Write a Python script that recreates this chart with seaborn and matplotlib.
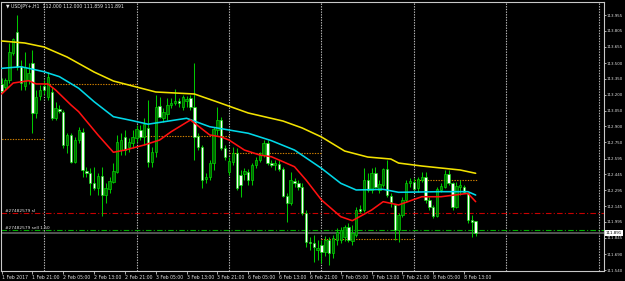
import numpy as np
import pandas as pd
import matplotlib
matplotlib.use("Agg")
import matplotlib.pyplot as plt
import matplotlib.transforms as mtransforms
import seaborn as sns

# ---------------- data (USDJPY+, H1) ----------------
opens = [113.302, 113.273, 113.339, 113.595, 113.794, 113.472, 113.283, 113.339, 113.501, 113.027,
         113.188, 113.283, 113.178, 113.226, 112.980, 113.065, 113.036, 112.724, 112.819, 112.563,
         112.771, 112.847, 112.478, 112.459, 112.364, 112.317, 112.430, 112.250, 112.307, 112.373,
         112.468, 112.676, 112.800, 112.705, 112.743, 112.790, 112.866, 112.800, 112.885, 112.563,
         112.658, 113.093, 112.980, 113.017, 113.103, 113.122, 113.141, 113.084, 113.141, 113.169,
         113.084, 112.809, 112.705, 112.402, 112.421, 112.553, 112.866, 112.961, 112.695, 112.468,
         112.563, 112.648, 112.440, 112.449, 112.468, 112.392, 112.535, 112.582, 112.629, 112.743,
         112.553, 112.535, 112.544, 112.497, 112.241, 112.175, 112.383, 112.364, 112.326, 112.080,
         111.806, 111.796, 111.730, 111.777, 111.711, 111.824, 111.701, 111.824, 111.824, 111.853,
         111.947, 111.815, 111.872, 112.118, 112.108, 112.392, 112.298, 112.459, 112.298, 112.345,
         112.497, 112.241, 112.156, 111.919, 112.061, 112.203, 112.364, 112.373, 112.317, 112.392,
         112.421, 112.203, 112.137, 112.051, 112.298, 112.326, 112.449, 112.364, 112.137, 112.326,
         112.326, 112.269, 112.013, 112.000]
highs = [113.358, 113.358, 113.690, 113.737, 113.955, 113.529, 113.605, 113.501, 113.624, 113.245,
         113.292, 113.339, 113.415, 113.273, 113.131, 113.103, 113.055, 112.838, 112.838, 112.800,
         112.894, 112.885, 112.516, 112.506, 112.516, 112.459, 112.516, 112.364, 112.421, 112.553,
         112.819, 112.838, 112.866, 112.790, 112.866, 112.913, 112.913, 112.980, 113.150, 112.705,
         113.197, 113.178, 113.074, 113.169, 113.169, 113.254, 113.169, 113.197, 113.188, 113.197,
         113.501, 112.838, 112.724, 112.459, 112.582, 112.894, 113.084, 112.989, 112.724, 112.610,
         112.705, 112.695, 112.487, 112.506, 112.497, 112.553, 112.610, 112.658, 112.771, 112.771,
         112.582, 112.582, 112.582, 112.516, 112.269, 112.468, 112.411, 112.392, 112.364, 112.108,
         111.853, 111.872, 111.824, 111.824, 111.862, 111.853, 111.872, 111.938, 111.947, 111.966,
         111.985, 111.966, 112.137, 112.156, 112.506, 112.459, 112.506, 112.516, 112.392, 112.506,
         112.582, 112.269, 112.156, 112.080, 112.231, 112.392, 112.411, 112.411, 112.421, 112.468,
         112.468, 112.231, 112.156, 112.326, 112.364, 112.487, 112.487, 112.373, 112.373, 112.392,
         112.345, 112.279, 112.061, 112.000]
lows = [113.216, 113.245, 113.311, 113.576, 113.434, 113.245, 113.245, 113.302, 112.838, 112.980,
        113.150, 113.207, 113.150, 112.961, 112.961, 113.027, 112.695, 112.648, 112.553, 112.553,
        112.743, 112.421, 112.421, 112.250, 112.298, 112.250, 112.051, 112.175, 112.269, 112.364,
        112.459, 112.629, 112.629, 112.658, 112.695, 112.752, 112.771, 112.724, 112.516, 112.516,
        112.610, 112.980, 112.942, 112.961, 113.074, 113.103, 113.084, 113.055, 113.084, 113.055,
        112.582, 112.676, 112.317, 112.364, 112.392, 112.487, 112.819, 112.676, 112.582, 112.440,
        112.535, 112.298, 112.231, 112.392, 112.345, 112.345, 112.506, 112.563, 112.610, 112.535,
        112.516, 112.487, 112.478, 112.231, 111.995, 112.156, 112.326, 112.298, 112.061, 111.758,
        111.730, 111.616, 111.635, 111.606, 111.673, 111.587, 111.654, 111.777, 111.796, 111.815,
        111.806, 111.777, 111.853, 112.080, 112.089, 112.279, 112.269, 112.317, 112.269, 112.326,
        112.231, 112.137, 111.824, 111.806, 112.042, 112.184, 112.326, 112.298, 112.279, 112.373,
        112.175, 112.108, 112.032, 112.042, 112.279, 112.317, 112.345, 112.108, 112.127, 112.250,
        112.269, 111.985, 111.853, 111.859]
closes = [113.235, 113.339, 113.605, 113.728, 113.462, 113.311, 113.462, 113.406, 113.027, 113.178,
          113.245, 113.245, 113.368, 112.980, 113.074, 113.046, 112.724, 112.819, 112.563, 112.771,
          112.866, 112.487, 112.459, 112.364, 112.317, 112.430, 112.250, 112.317, 112.383, 112.478,
          112.752, 112.771, 112.676, 112.752, 112.800, 112.875, 112.800, 112.923, 112.563, 112.658,
          113.084, 112.989, 113.036, 113.103, 113.122, 113.141, 113.122, 113.178, 113.159, 113.084,
          112.800, 112.705, 112.392, 112.421, 112.553, 112.875, 112.961, 112.695, 112.610, 112.572,
          112.648, 112.317, 112.345, 112.478, 112.392, 112.535, 112.582, 112.629, 112.743, 112.553,
          112.535, 112.553, 112.497, 112.241, 112.175, 112.392, 112.364, 112.326, 112.080, 111.806,
          111.796, 111.758, 111.749, 111.711, 111.824, 111.701, 111.843, 111.900, 111.919, 111.947,
          111.824, 111.890, 112.108, 112.099, 112.392, 112.298, 112.459, 112.326, 112.354, 112.497,
          112.250, 112.184, 111.919, 112.061, 112.203, 112.364, 112.383, 112.307, 112.402, 112.421,
          112.203, 112.137, 112.051, 112.307, 112.336, 112.449, 112.364, 112.137, 112.336, 112.345,
          112.279, 112.013, 111.995, 111.891]

# moving averages, read at selected bars
ma_slow_bar = [0, 6, 11, 17, 24, 29, 35, 40, 50, 56, 64, 73, 78, 83, 89, 95, 101, 103, 109, 114, 119, 123]
ma_slow_val = [113.709, 113.690, 113.652, 113.557, 113.415, 113.330, 113.273, 113.226, 113.207, 113.131,
               113.027, 112.951, 112.885, 112.800, 112.667, 112.610, 112.591, 112.553, 112.525, 112.506,
               112.487, 112.456]
ma_mid_bar = [0, 5, 7, 11, 15, 20, 24, 29, 34, 38, 48, 54, 59, 64, 70, 76, 83, 88, 92, 99, 103, 114, 121, 123]
ma_mid_val = [113.450, 113.465, 113.450, 113.418, 113.371, 113.261, 113.134, 112.992, 112.954, 112.921,
              112.977, 112.897, 112.866, 112.835, 112.765, 112.676, 112.503, 112.361, 112.298, 112.304,
              112.276, 112.282, 112.282, 112.250]
ma_fast_bar = [0, 3, 7, 9, 12, 14, 18, 20, 25, 29, 32, 37, 41, 44, 49, 54, 57, 59, 63, 67, 70, 73, 76,
               79, 83, 88, 91, 96, 99, 103, 109, 114, 121, 123]
ma_fast_val = [113.207, 113.311, 113.333, 113.302, 113.302, 113.245, 113.103, 113.039, 112.819, 112.655,
               112.676, 112.724, 112.771, 112.850, 112.961, 112.819, 112.800, 112.771, 112.676, 112.629,
               112.613, 112.566, 112.518, 112.392, 112.203, 112.045, 112.007, 112.108, 112.187, 112.156,
               112.234, 112.234, 112.266, 112.187]

# daily open levels (start bar, end bar, price)
day_start = [-1, 11, 35, 59, 83, 107]
day_end = [11, 35, 59, 83, 107, 123.4]
day_level = [112.781, 113.302, 112.809, 112.648, 111.834, 112.392]

separator_bars = [11, 35, 59, 83, 107, 131, 155]

tick_bars = [0, 8, 16, 24, 32, 40, 48, 56, 64, 72, 80, 88, 96, 104, 112, 120]
tick_labels = ["1 Feb 2017", "1 Feb 21:00", "2 Feb 05:00", "2 Feb 13:00", "2 Feb 21:00",
               "3 Feb 05:00", "3 Feb 13:00", "3 Feb 21:00", "6 Feb 05:00", "6 Feb 13:00",
               "6 Feb 21:00", "7 Feb 05:00", "7 Feb 13:00", "7 Feb 21:00", "8 Feb 05:00",
               "8 Feb 13:00"]
price_ticks = [113.955, 113.805, 113.655, 113.500, 113.350, 113.200, 113.050, 112.900, 112.750,
               112.595, 112.445, 112.295, 112.145, 111.995, 111.845, 111.690, 111.540]

sl_level = 112.080
sell_level = 111.918
bid = 111.891
title = "USDJPY+,H1  112.000 112.000 111.859 111.891"

# ---------------- drawing ----------------
sns.set_theme(style="dark")
plt.rcParams["font.family"] = ["DejaVu Sans"]

W, H = 625, 281
fig = plt.figure(figsize=(W / 100, H / 100), dpi=100, facecolor="black")
ax = fig.add_axes([1.5 / W, (H - 270.7) / H, (604 - 1.5) / W, (270.7 - 1.7) / H])
ax.set_facecolor("black")
ax.set_xlim(-0.03, 156.3)
ax.set_ylim(111.5335, 114.081)

fg = "#c8c8c8"
for s in ax.spines.values():
    s.set_color(fg)
    s.set_linewidth(0.8)

# period separators
for b in separator_bars:
    ax.axvline(b, color="#bdbdbd", lw=0.8, ls=(0, (1.2, 1.2)), zorder=1)

# daily open levels
for s0, s1, lv in zip(day_start, day_end, day_level):
    ax.hlines(lv, s0, s1, color="#d08000", lw=0.8, ls=(0, (1.2, 1.2)), zorder=2)

# trade levels
ax.axhline(sl_level, color="#c80000", lw=0.8, ls=(0, (5, 2, 1, 2)), zorder=2)
ax.axhline(sell_level, color="#00b000", lw=0.8, ls=(0, (5, 2, 1, 2)), zorder=2)
ax.axhline(bid, color="#5a5a5a", lw=1.3, zorder=1.5)

# candles
n = len(opens)
xs = np.arange(n)
o = np.array(opens); h = np.array(highs); l = np.array(lows); c = np.array(closes)
wick = "#00c800"
ax.vlines(xs, l, h, color=wick, lw=0.75, zorder=3)
bull = c >= o
bottoms = np.minimum(o, c)
heights = np.maximum(np.abs(c - o), 0.004)
ax.bar(xs[bull], heights[bull], bottom=bottoms[bull], width=0.62, color="#006a00",
       edgecolor="#00e000", linewidth=0.45, zorder=4)
ax.bar(xs[~bull], heights[~bull], bottom=bottoms[~bull], width=0.62, color="white",
       edgecolor="#00e000", linewidth=0.45, zorder=4)

# moving averages with seaborn
df_slow = pd.DataFrame({"bar": ma_slow_bar, "val": ma_slow_val})
df_mid = pd.DataFrame({"bar": ma_mid_bar, "val": ma_mid_val})
df_fast = pd.DataFrame({"bar": ma_fast_bar, "val": ma_fast_val})
sns.lineplot(data=df_slow, x="bar", y="val", ax=ax, color="#f2e200", lw=1.15, zorder=5)
sns.lineplot(data=df_mid, x="bar", y="val", ax=ax, color="#00d8e8", lw=1.15, zorder=5)
sns.lineplot(data=df_fast, x="bar", y="val", ax=ax, color="#ff1010", lw=1.15, zorder=5)
ax.set_xlabel("")
ax.set_ylabel("")

# axes ticks
ax.grid(False)
ax.set_xticks(tick_bars)
ax.set_xticklabels(tick_labels, ha="left")
ax.yaxis.tick_right()
ax.set_yticks(price_ticks)
ax.set_yticklabels([f"{p:.3f}" for p in price_ticks])
ax.tick_params(axis="x", direction="out", length=2.0, width=0.6, color=fg,
               labelsize=3.3, labelcolor="#e0e0e0", pad=1.0, bottom=True)
ax.tick_params(axis="y", direction="out", length=1.5, width=0.6, color=fg,
               labelsize=2.9, labelcolor="#e0e0e0", pad=0.5, right=True, left=False)

# texts
ax.text(1.2, 114.04, "\u25bc " + title, color="#e8e8e8", fontsize=3.3, va="center", ha="left", zorder=6)
ax.text(0.8, sl_level + 0.02, "#27482579 sl", color="#e8e8e8", fontsize=3.1, va="center", ha="left", zorder=6)
ax.text(0.8, sell_level + 0.02, "#27482579 sell 1.50", color="#e8e8e8", fontsize=3.1, va="center",
        ha="left", zorder=6)
trans = mtransforms.blended_transform_factory(ax.transAxes, ax.transData)
ax.text(1.0025, bid, f"{bid:.3f}", transform=trans, color="black", fontsize=2.9, va="center", ha="left",
        bbox=dict(boxstyle="square,pad=0.2", fc="white", ec="white", lw=0), zorder=10, clip_on=False)

fig.savefig("out.png", dpi=100, facecolor="black")
